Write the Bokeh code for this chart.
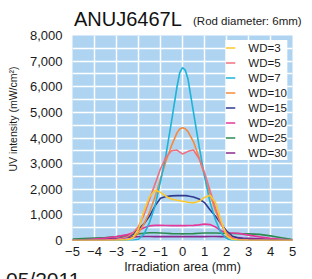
from bokeh.plotting import figure
from bokeh.layouts import column
from bokeh.models import Range1d, FixedTicker, NumeralTickFormatter, Legend, LegendItem, Div
from bokeh.embed import file_html
from bokeh.resources import INLINE

# ---------------- data ----------------
X = [-5, -4.5, -4, -3.5, -3, -2.75, -2.5, -2.25, -2, -1.75, -1.5, -1.25, -1, -0.75, -0.5, -0.25,
     -0.125, 0, 0.125, 0.25, 0.5, 0.75, 1, 1.25, 1.5, 1.75, 2, 2.25, 2.5, 2.75, 3, 3.5, 4, 4.5, 5]

wd3 = [0, 0, 0, 0, 10, 20, 30, 120, 450, 1150, 1700, 1960, 1880, 1720, 1620, 1570,
       1550, 1530, 1510, 1490, 1470, 1530, 1680, 1770, 1480, 780, 180, 50, 20, 10, 5, 0, 0, 0, 0]
wd5 = [0, 0, 10, 20, 50, 90, 150, 300, 550, 1000, 1600, 2200, 2800, 3250, 3500, 3530,
       3450, 3380, 3420, 3480, 3530, 3200, 2650, 1950, 1250, 650, 250, 100, 50, 30, 20, 10, 0, 0, 0]
wd7 = [0, 0, 0, 0, 0, 0, 0, 10, 50, 250, 700, 1350, 2300, 3350, 4650, 6000,
       6550, 6750, 6650, 6300, 5000, 3700, 2500, 1500, 800, 300, 80, 10, 0, 0, 0, 0, 0, 0, 0]
wd10 = [0, 0, 0, 0, 0, 10, 30, 100, 300, 650, 1100, 1700, 2400, 3100, 3700, 4200,
        4350, 4400, 4360, 4250, 3850, 3250, 2550, 1800, 1150, 650, 300, 100, 30, 10, 0, 0, 0, 0, 0]
wd15 = [0, 10, 20, 30, 50, 100, 150, 250, 450, 650, 950, 1350, 1650, 1720, 1740, 1750,
        1750, 1750, 1750, 1740, 1700, 1620, 1480, 1200, 950, 650, 380, 180, 100, 60, 40, 20, 10, 5, 0]
wd20 = [10, 30, 60, 100, 150, 190, 230, 300, 400, 500, 570, 590, 590, 585, 580, 580,
        580, 580, 580, 585, 590, 610, 640, 620, 530, 380, 300, 290, 280, 250, 210, 140, 90, 50, 20]
wd25 = [60, 80, 100, 120, 150, 170, 200, 230, 260, 280, 300, 300, 290, 280, 270, 265,
        262, 260, 262, 265, 270, 280, 290, 295, 290, 285, 280, 275, 270, 265, 260, 240, 180, 110, 40]
wd30 = [20, 30, 40, 60, 80, 100, 120, 140, 150, 155, 155, 150, 150, 150, 150, 150,
        150, 150, 150, 150, 150, 150, 150, 155, 155, 150, 150, 140, 120, 100, 90, 70, 50, 30, 10]

SERIES = [wd3, wd5, wd7, wd10, wd15, wd20, wd25, wd30]
LABELS = ["WD=3", "WD=5", "WD=7", "WD=10", "WD=15", "WD=20", "WD=25", "WD=30"]
COLORS = ["#fcc82c", "#f0707e", "#1db4d6", "#f68a3c", "#2f3a8f", "#e6379a", "#2e8b50", "#8a2a8e"]

X_TICKS = [-5, -4, -3, -2, -1, 0, 1, 2, 3, 4, 5]
Y_TICKS = [0, 1000, 2000, 3000, 4000, 5000, 6000, 7000, 8000]
Y_GRID = [0, 500, 1000, 1500, 2000, 2500, 3000, 3500, 4000, 4500, 5000, 5500,
          6000, 6500, 7000, 7500, 8000]

TITLE = "ANUJ6467L"
SUBTITLE = "(Rod diameter: 6mm)"
XLABEL = "Irradiation area (mm)"
YLABEL = "UV intensity (mW/cm²)"
DATE = "05/2011"

FONT = "Liberation Sans"
TXT = "#1a1a1a"

# ---------------- title row (plus the clipped date at the page foot) ----------------
head_html = (
    '<div style="position:relative;width:312px;height:27px;font-family:\'Liberation Sans\';color:#111;">'
    f'<span style="position:absolute;left:74px;top:9px;font-size:20px;line-height:20px;white-space:nowrap;">{TITLE}</span>'
    f'<span style="position:absolute;left:193px;top:15px;font-size:11.5px;line-height:12px;white-space:nowrap;color:{TXT};">{SUBTITLE}</span>'
    '<div style="position:absolute;left:0;top:0;width:312px;height:279px;overflow:hidden;pointer-events:none;">'
    f'<span style="position:absolute;left:6px;top:269px;font-size:21px;line-height:21px;white-space:nowrap;color:{TXT};">{DATE}</span>'
    '</div>'
    '</div>'
)
head = Div(text=head_html, width=312, height=27, margin=0, styles={"overflow": "visible"})

# ---------------- plot ----------------
p = figure(width=312, height=252, output_backend="svg", toolbar_location=None, title=None,
           x_range=Range1d(-5, 5), y_range=Range1d(0, 8000), margin=0,
           min_border_left=72, min_border_right=20, min_border_top=8, min_border_bottom=39)
p.background_fill_color = "#afd4f1"
p.border_fill_color = "white"
p.border_fill_alpha = 0.0
p.outline_line_color = None

for ax in (p.xaxis[0], p.yaxis[0]):
    ax.axis_line_color = None
    ax.major_tick_line_color = None
    ax.minor_tick_line_color = None
    ax.major_tick_out = 0
    ax.major_tick_in = 0
    ax.major_label_text_font = FONT
    ax.major_label_text_font_size = "13px"
    ax.major_label_text_color = TXT
    ax.axis_label_text_font = FONT
    ax.axis_label_text_font_style = "normal"
    ax.axis_label_text_color = TXT
p.xaxis.ticker = FixedTicker(ticks=X_TICKS)
p.yaxis.ticker = FixedTicker(ticks=Y_TICKS)
p.yaxis.formatter = NumeralTickFormatter(format="0,0")
p.yaxis.major_label_standoff = 10
p.xaxis.major_label_standoff = 6

p.xaxis.axis_label = XLABEL
p.xaxis.axis_label_text_font_size = "12.5px"
p.xaxis.axis_label_standoff = 1
p.yaxis.axis_label = "\u00a0" * 13 + YLABEL
p.yaxis.axis_label_text_font_size = "10.5px"
p.yaxis.axis_label_standoff = 8

p.xgrid.ticker = FixedTicker(ticks=X_TICKS)
p.ygrid.ticker = FixedTicker(ticks=Y_GRID)
for g in (p.xgrid[0], p.ygrid[0]):
    g.grid_line_color = "white"
    g.grid_line_width = 1.5
    g.grid_line_alpha = 1.0

renderers = {}
for i in reversed(range(len(SERIES))):
    r = p.line(X, SERIES[i], line_color=COLORS[i], line_width=1.6)
    renderers[i] = r

items = [LegendItem(label=LABELS[i], renderers=[renderers[i]]) for i in range(len(SERIES))]
legend = Legend(items=items, location="top_right", margin=5, padding=4, spacing=0,
                label_height=15, glyph_height=15, glyph_width=10, label_standoff=13,
                border_line_color=None, background_fill_color="white", background_fill_alpha=1.0,
                label_text_font=FONT, label_text_font_size="11.5px", label_text_color=TXT)
p.add_layout(legend)

layout = column(head, p, spacing=0, margin=0)
open("out.html", "w").write(file_html(layout, INLINE))
